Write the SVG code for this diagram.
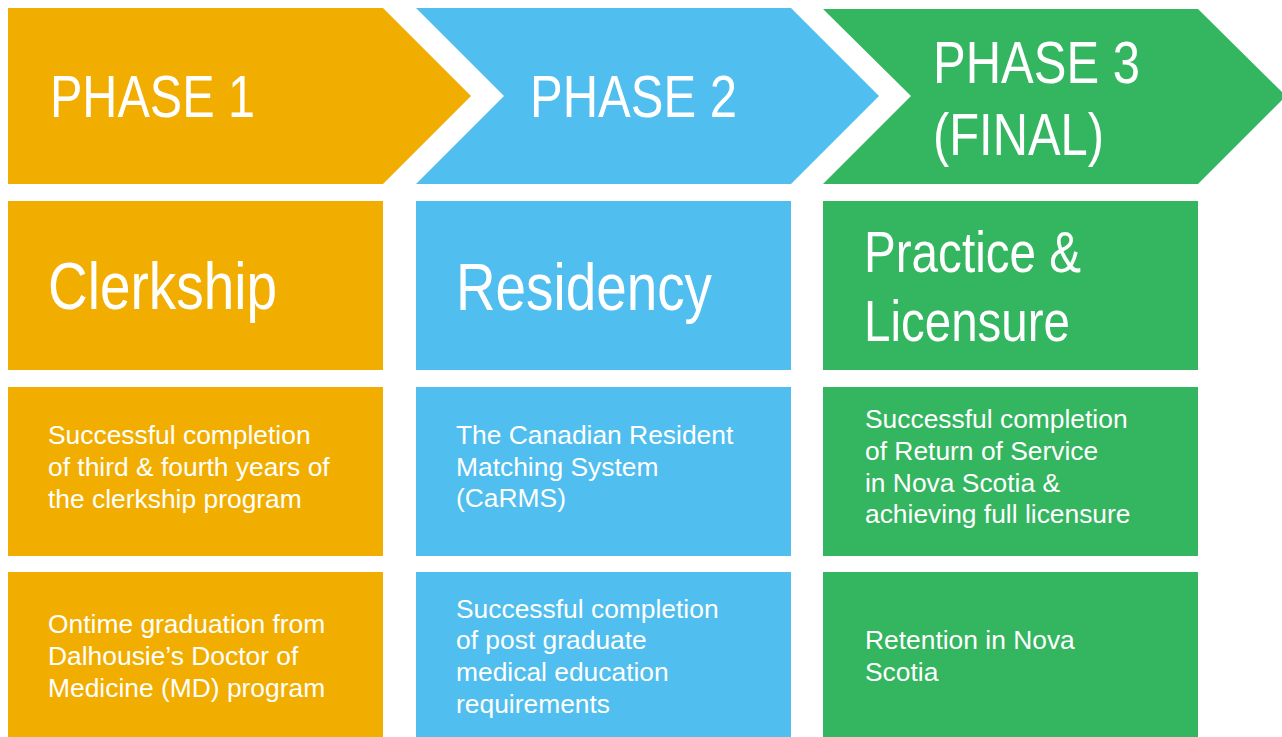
<svg xmlns="http://www.w3.org/2000/svg" width="1282" height="737" viewBox="0 0 1282 737">
<style>
.o{fill:#F2AE00}
.b{fill:#50BEEE}
.g{fill:#34B560}
text{fill:#FFFFFF;font-family:"Liberation Sans",Arial,sans-serif}
.ph{font-size:60px}
.tt{font-size:66px}
.tt2{font-size:57px}
.bd{font-size:26.4px}
</style>
<rect width="1282" height="737" fill="#FFFFFF"/>
<g id="phase1">
<polygon class="o" points="8,8 383,8 471,96 383,184 8,184"/>
<text class="ph" x="50" y="117" textLength="205" lengthAdjust="spacingAndGlyphs">PHASE 1</text>
</g>
<g id="phase2">
<polygon class="b" points="416,8 791,8 879,96 791,184 416,184 504,96"/>
<text class="ph" x="530" y="117" textLength="207" lengthAdjust="spacingAndGlyphs">PHASE 2</text>
</g>
<g id="phase3">
<polygon class="g" points="823,9 1198,9 1286,96 1198,184 823,184 911,96"/>
<text class="ph" x="933" y="83" textLength="207" lengthAdjust="spacingAndGlyphs">PHASE 3</text>
<text class="ph" x="933" y="155" textLength="171" lengthAdjust="spacingAndGlyphs">(FINAL)</text>
</g>
<g id="clerkship">
<rect class="o" x="8" y="201" width="375" height="169"/>
<text class="tt" x="48" y="309" textLength="229" lengthAdjust="spacingAndGlyphs">Clerkship</text>
</g>
<g id="residency">
<rect class="b" x="416" y="201" width="375" height="169"/>
<text class="tt" x="456" y="310" textLength="256" lengthAdjust="spacingAndGlyphs">Residency</text>
</g>
<g id="practice">
<rect class="g" x="823" y="201" width="375" height="169"/>
<text class="tt2" x="864" y="272" textLength="217" lengthAdjust="spacingAndGlyphs">Practice &amp;</text>
<text class="tt2" x="864" y="341" textLength="206" lengthAdjust="spacingAndGlyphs">Licensure</text>
</g>
<g id="clerkship-completion">
<rect class="o" x="8" y="387" width="375" height="169"/>
<text class="bd" x="48" y="444">Successful completion</text>
<text class="bd" x="48" y="476">of third &amp; fourth years of</text>
<text class="bd" x="48" y="508">the clerkship program</text>
</g>
<g id="carms">
<rect class="b" x="416" y="387" width="375" height="169"/>
<text class="bd" x="456" y="444">The Canadian Resident</text>
<text class="bd" x="456" y="476">Matching System</text>
<text class="bd" x="456" y="507">(CaRMS)</text>
</g>
<g id="return-of-service">
<rect class="g" x="823" y="387" width="375" height="169"/>
<text class="bd" x="865" y="428">Successful completion</text>
<text class="bd" x="865" y="460">of Return of Service</text>
<text class="bd" x="865" y="492">in Nova Scotia &amp;</text>
<text class="bd" x="865" y="523">achieving full licensure</text>
</g>
<g id="graduation">
<rect class="o" x="8" y="572" width="375" height="165"/>
<text class="bd" x="48" y="633">Ontime graduation from</text>
<text class="bd" x="48" y="665">Dalhousie’s Doctor of</text>
<text class="bd" x="48" y="697">Medicine (MD) program</text>
</g>
<g id="pgme">
<rect class="b" x="416" y="572" width="375" height="165"/>
<text class="bd" x="456" y="618">Successful completion</text>
<text class="bd" x="456" y="649">of post graduate</text>
<text class="bd" x="456" y="681">medical education</text>
<text class="bd" x="456" y="713">requirements</text>
</g>
<g id="retention">
<rect class="g" x="823" y="572" width="375" height="165"/>
<text class="bd" x="865" y="649">Retention in Nova</text>
<text class="bd" x="865" y="681">Scotia</text>
</g>
<g id="connectors"></g>
</svg>
